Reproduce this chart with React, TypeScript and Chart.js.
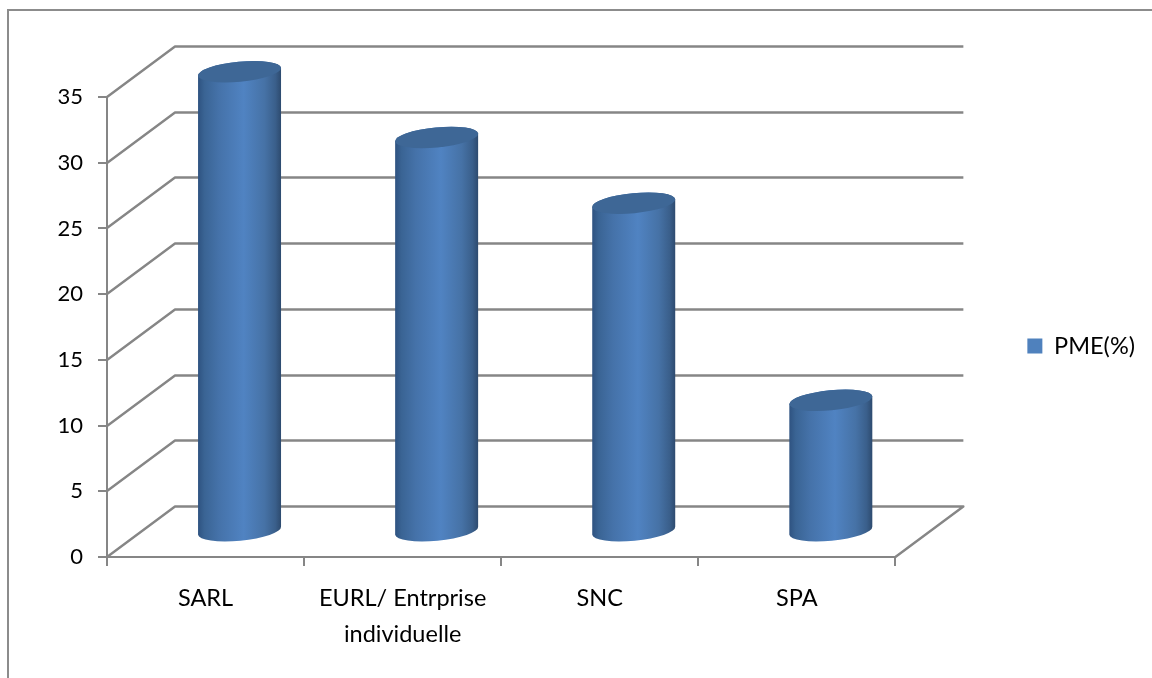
import React, { useEffect, useRef } from "react";
import { Chart, registerables } from "chart.js";

Chart.register(...registerables);

const categories = [["SARL"], ["EURL/ Entrprise", "individuelle"], ["SNC"], ["SPA"]];
const seriesName = "PME(%)";
const seriesValues = [35, 30, 25, 10];

const AXIS_GRAY = "#868686";
const BAR_BLUE = "#4f81bd";
const FONT = "Lato";
const LABEL_SIZE = 23.5;
const TICK_SIZE = 22;
const DEPTH_X = 68;
const DEPTH_Y = 50.5;

// Receding floor and wall lines, which give the plot its 3D box.
const wallPlugin = {
  id: "wall",
  afterLayout(chart: any) {
    // Let the two-line category label run below the axis box without being clipped.
    chart.scales.x.bottom = chart.height;
  },
  beforeDatasetsDraw(chart: any) {
    const { ctx, chartArea, scales } = chart;
    ctx.save();
    ctx.strokeStyle = AXIS_GRAY;
    ctx.lineWidth = 2.4;
    ctx.lineJoin = "round";
    for (const tick of scales.y.ticks) {
      const y = Math.round(scales.y.getPixelForValue(tick.value));
      ctx.beginPath();
      ctx.moveTo(chartArea.left, y);
      ctx.lineTo(chartArea.left + DEPTH_X, y - DEPTH_Y);
      ctx.lineTo(chartArea.right + DEPTH_X, y - DEPTH_Y);
      if (tick.value === 0) ctx.lineTo(chartArea.right, y);
      ctx.stroke();
    }
    ctx.restore();
  },
};

// Replaces the flat bars with shaded cylinders standing mid-way into the box.
const cylinderPlugin = {
  id: "cylinders",
  beforeDatasetDraw() {
    return false;
  },
  afterDatasetsDraw(chart: any) {
    const { ctx } = chart;
    const rot = (-5.5 * Math.PI) / 180;
    const ry = 10;
    for (const bar of chart.getDatasetMeta(0).data) {
      const cx = bar.x + DEPTH_X / 2;
      const rx = bar.width / 2;
      const top = bar.y - DEPTH_Y / 2;
      const bottom = bar.base - DEPTH_Y / 2;
      const shade = ctx.createLinearGradient(cx - rx, 0, cx + rx, 0);
      shade.addColorStop(0, "#2e5280");
      shade.addColorStop(0.08, "#3a6494");
      shade.addColorStop(0.25, "#4572a9");
      shade.addColorStop(0.55, "#5083c2");
      shade.addColorStop(0.8, "#4672a6");
      shade.addColorStop(0.93, "#3a5f8b");
      shade.addColorStop(1, "#2d4a6e");
      ctx.save();
      ctx.beginPath();
      ctx.ellipse(cx, bottom, rx, ry, rot, 0, Math.PI);
      ctx.ellipse(cx, top, rx, ry, rot, Math.PI, Math.PI * 2);
      ctx.closePath();
      ctx.fillStyle = shade;
      ctx.fill();
      ctx.beginPath();
      ctx.ellipse(cx, top, rx, ry, rot, 0, Math.PI * 2);
      ctx.fillStyle = "#3e6796";
      ctx.fill();
      ctx.restore();
    }
  },
};

// Top and left edges of the frame around the chart.
const framePlugin = {
  id: "frame",
  afterDraw(chart: any) {
    const { ctx, width, height } = chart;
    ctx.save();
    ctx.strokeStyle = "#8c8c8c";
    ctx.lineWidth = 2;
    ctx.beginPath();
    ctx.moveTo(8, height);
    ctx.lineTo(8, 10);
    ctx.lineTo(width, 10);
    ctx.stroke();
    ctx.restore();
  },
};

export default function App() {
  const ref = useRef<HTMLCanvasElement>(null);

  useEffect(() => {
    const chart = new Chart(ref.current!, {
      type: "bar",
      data: {
        labels: categories,
        datasets: [
          {
            label: seriesName,
            data: seriesValues,
            backgroundColor: BAR_BLUE,
            borderWidth: 0,
            categoryPercentage: 1,
            barPercentage: 0.423,
          },
        ],
      },
      plugins: [wallPlugin, cylinderPlugin, framePlugin],
      options: {
        responsive: false,
        animation: false,
        layout: { padding: { top: 97, bottom: 83, left: 0, right: 7 } },
        plugins: {
          title: { display: false },
          tooltip: { enabled: false },
          legend: {
            position: "right",
            labels: {
              padding: 132,
              boxWidth: 15,
              boxHeight: 15,
              color: "#000000",
              font: { family: FONT, size: LABEL_SIZE },
            },
          },
        },
        scales: {
          x: {
            afterFit(scale: any) {
              scale.height = 38;
            },
            grid: { drawOnChartArea: false, color: AXIS_GRAY, lineWidth: 2, tickLength: 9 },
            border: { color: AXIS_GRAY, width: 2 },
            ticks: {
              color: "#000000",
              font: { family: FONT, size: LABEL_SIZE, lineHeight: 1.53 },
              padding: 14,
              maxRotation: 0,
              minRotation: 0,
              autoSkip: false,
            },
          },
          y: {
            min: 0,
            max: 35,
            afterFit(scale: any) {
              scale.width = 107;
            },
            grid: { drawOnChartArea: false, color: AXIS_GRAY, lineWidth: 2, tickLength: 9 },
            border: { color: AXIS_GRAY, width: 2 },
            ticks: {
              stepSize: 5,
              color: "#000000",
              font: { family: FONT, size: TICK_SIZE },
              padding: 15,
            },
          },
        },
      },
    });
    return () => chart.destroy();
  }, []);

  return (
    <div style={{ position: "absolute", left: 0, top: 0 }}>
      <canvas ref={ref} width={1152} height={678} style={{ display: "block" }} />
    </div>
  );
}
